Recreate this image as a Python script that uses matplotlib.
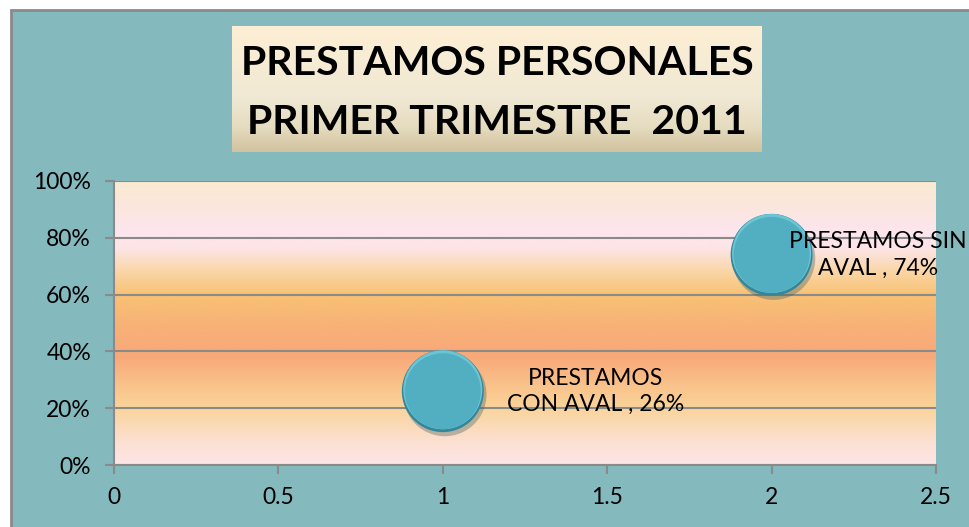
import numpy as np
import matplotlib
matplotlib.use("Agg")
import matplotlib.pyplot as plt
from matplotlib.colors import LinearSegmentedColormap
from matplotlib.patches import Rectangle
import matplotlib.transforms as mtransforms

# ---- data ----
x_values = [1, 2]
y_values = [0.26, 0.74]
bubble_size = [1, 1]
labels = ["PRESTAMOS\nCON AVAL , 26%", "PRESTAMOS SIN\nAVAL , 74%"]
title_lines = ["PRESTAMOS PERSONALES", "PRIMER TRIMESTRE  2011"]
y_ticks = [0, 0.2, 0.4, 0.6, 0.8, 1.0]
y_tick_labels = ["0%", "20%", "40%", "60%", "80%", "100%"]
x_ticks = [0, 0.5, 1, 1.5, 2, 2.5]
x_tick_labels = ["0", "0.5", "1", "1.5", "2", "2.5"]

plt.rcParams['font.family'] = ['Lato', 'DejaVu Sans']

W, H = 970, 527
fig = plt.figure(figsize=(W / 100, H / 100), dpi=100)
fig.patch.set_facecolor("white")

BG = "#84B9BE"
GRAY = "#8a8a8a"

# chart area background with border
fig.patches.append(Rectangle((11 / W, -0.1), 1.2, (H - 10) / H + 0.1,
                             transform=fig.transFigure, facecolor=BG,
                             edgecolor=GRAY, linewidth=2, zorder=-10))

# ---- title box ----
tx0, tx1, ty0, ty1 = 232, 762, 26, 152
tax = fig.add_axes([tx0 / W, 1 - ty1 / H, (tx1 - tx0) / W, (ty1 - ty0) / H])
tcmap = LinearSegmentedColormap.from_list(
    "tb", [(0.0, "#FDEFD4"), (0.55, "#F1E9D5"), (0.8, "#E6DCC0"), (1.0, "#D2C29E")])
grad = np.linspace(0, 1, 256).reshape(-1, 1)
tax.imshow(grad, aspect="auto", cmap=tcmap, extent=[0, 1, 0, 1], origin="upper")
tax.set_xlim(0, 1)
tax.set_ylim(0, 1)
tax.axis("off")
tax.text(0.5, 0.70, title_lines[0], ha="center", va="center",
         fontsize=29.5, fontweight="bold", color="black")
tax.text(0.5, 0.235, title_lines[1], ha="center", va="center",
         fontsize=29.5, fontweight="bold", color="black")

# ---- plot area ----
px0, px1, py0, py1 = 114, 936, 181, 465
ax = fig.add_axes([px0 / W, 1 - py1 / H, (px1 - px0) / W, (py1 - py0) / H])
ax.set_facecolor("none")
pcmap = LinearSegmentedColormap.from_list("pa", [
    (0.00, "#FDE5E6"), (0.08, "#FCE0D2"), (0.20, "#FAD49A"), (0.28, "#F9C28A"),
    (0.38, "#F8A979"), (0.48, "#F8B078"), (0.60, "#F8C275"), (0.68, "#FAD6A6"),
    (0.76, "#FDE5E6"), (0.82, "#FDE5EE"), (0.92, "#FBE7DC"), (1.00, "#FAEBCF")])
ax.imshow(np.linspace(0, 1, 512).reshape(-1, 1), aspect="auto", cmap=pcmap,
          extent=[0, 2.5, 0, 1], origin="lower", zorder=0)

ax.set_xlim(0, 2.5)
ax.set_ylim(0, 1)
ax.set_yticks(y_ticks)
ax.set_yticklabels(y_tick_labels)
ax.set_xticks(x_ticks)
ax.set_xticklabels(x_tick_labels)
ax.tick_params(axis="both", colors=GRAY, labelcolor="black", labelsize=16.5,
               length=6.5, width=1.5, direction="out")
ax.tick_params(axis="y", pad=10)
ax.tick_params(axis="x", pad=9)
ax.grid(axis="y", color=GRAY, linewidth=1.5, zorder=1)
ax.set_axisbelow(True)
for s in ["top", "right"]:
    ax.spines[s].set_visible(False)
for s in ["left", "bottom"]:
    ax.spines[s].set_color(GRAY)
    ax.spines[s].set_linewidth(1.5)
    ax.spines[s].set_zorder(2)

# ---- bubbles ----
base = 3480.0
sizes = np.array(bubble_size, dtype=float) * base
shadow_tr = mtransforms.offset_copy(ax.transData, fig=fig, x=1.5, y=-2.5, units="points")
ax.scatter(x_values, y_values, s=sizes * 1.03, color="#3a5a60", alpha=0.35,
           linewidths=0, transform=shadow_tr, zorder=3)
ax.scatter(x_values, y_values, s=sizes, color="#34879A", linewidths=0, zorder=4)
up_tr = mtransforms.offset_copy(ax.transData, fig=fig, x=0, y=1.0, units="points")
ax.scatter(x_values, y_values, s=sizes * 0.93, color="#6CC5D5", linewidths=0,
           transform=up_tr, zorder=5)
ax.scatter(x_values, y_values, s=sizes * 0.86, color="#52AFC2", linewidths=0, zorder=6)

# ---- labels ----
offsets = [(110, 0), (76.5, 0)]
for xv, yv, lab, off in zip(x_values, y_values, labels, offsets):
    ax.annotate(lab, (xv, yv), xytext=off, textcoords="offset points",
                ha="center", va="center", fontsize=16.5, linespacing=1.3,
                color="black", annotation_clip=False, zorder=8)

fig.savefig("out.png", dpi=100, facecolor=fig.get_facecolor())
